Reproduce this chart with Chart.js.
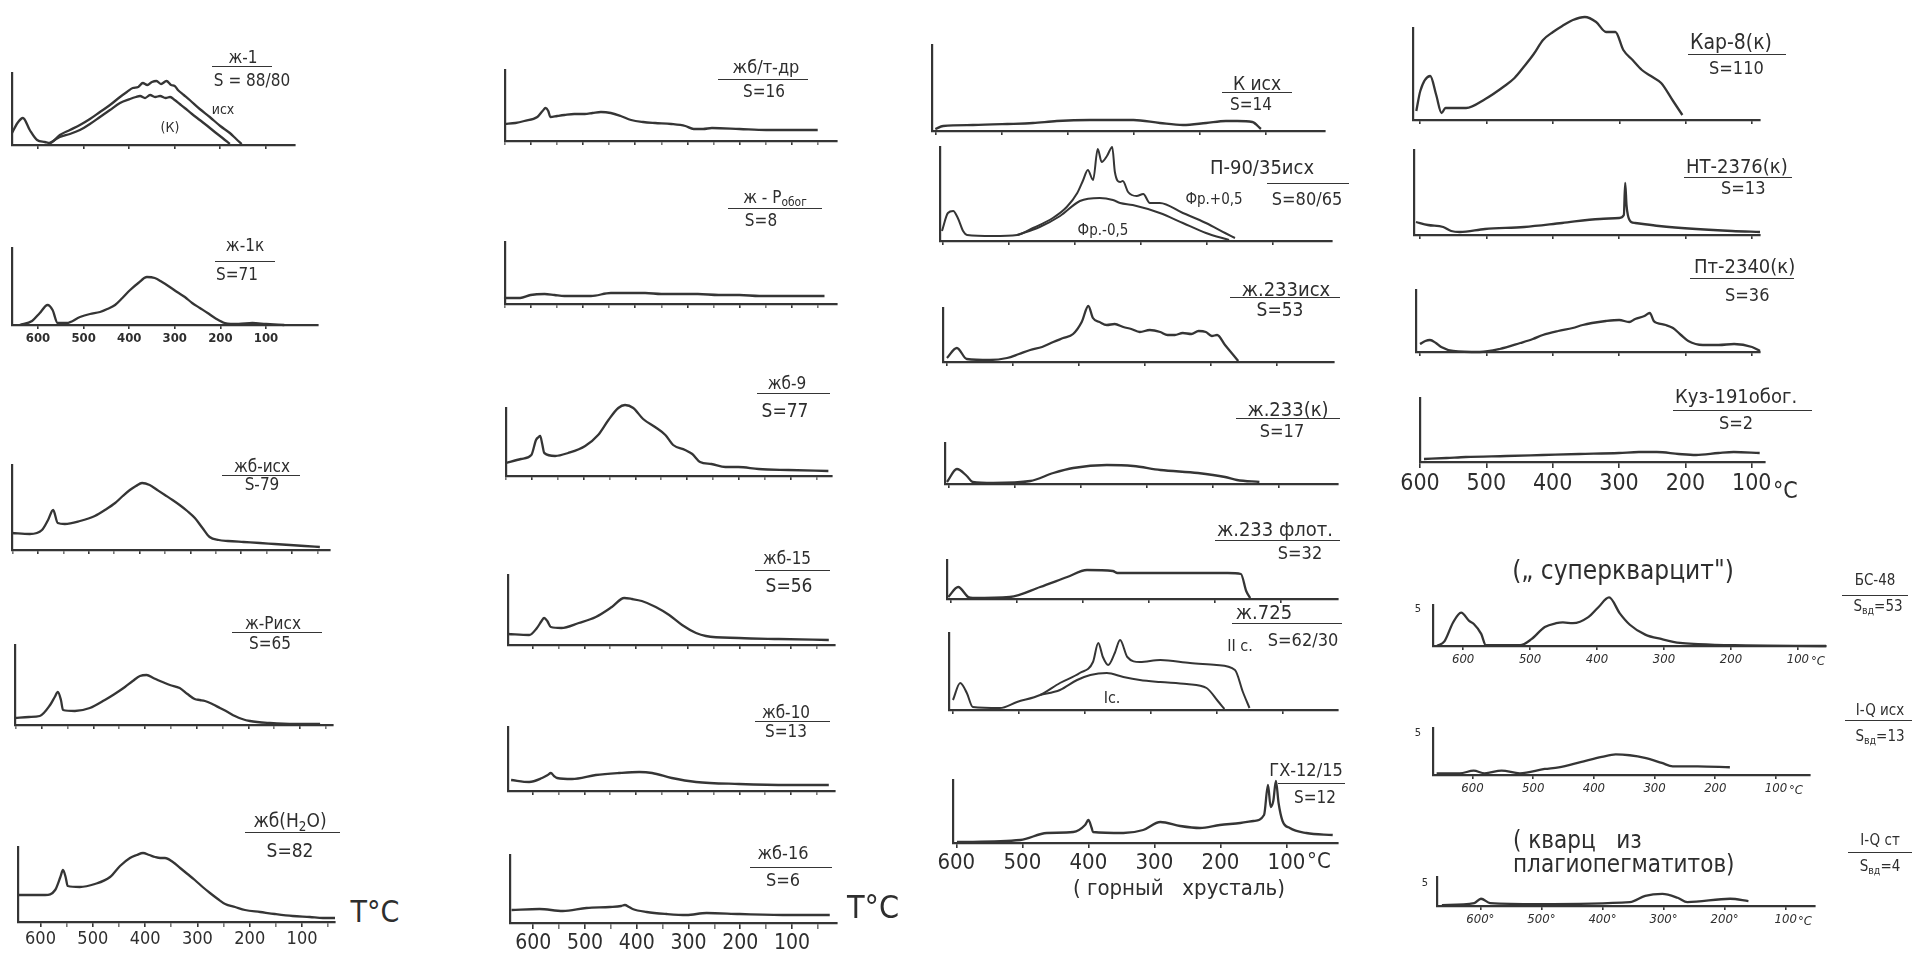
<!DOCTYPE html>
<html lang="ru">
<head>
<meta charset="utf-8">
<title>Кривые термолюминесценции кварца</title>
<script src="https://cdn.jsdelivr.net/npm/chart.js@4.4.1/dist/chart.umd.min.js"></script>
<style>
  html, body { margin: 0; padding: 0; background: #fff; }
  #sheet { position: relative; width: 1918px; height: 955px; overflow: hidden; background: #fff; }
  #sheet canvas { position: absolute; }
  .lbl { position: absolute; white-space: nowrap; color: #2e2e2e; line-height: 1;
         font-family: "DejaVu Sans Condensed", "Liberation Sans Narrow", "DejaVu Sans", sans-serif; }
  .lbl sub { font-size: 70%; vertical-align: -0.25em; }
  .rule { position: absolute; height: 0; border-top: 1.8px solid #353535; }
</style>
</head>
<body>
<div id="sheet"></div>
<script>
// ---------- glow-curve data: temperature (°C) and relative intensity ----------

// ж-1 (initial and after treatment)
const zh1IshT = [657,645,633,618,602,585,574,552,530,508,486,464,442,420,405,392,380,370,360,350,340,330,318,308,300,293,280,267,245,223,200,179,165,153];
const zh1IshI = [12,22,27,15,5,3,2,10,15,20,26,33,40,48,53,57,58,62,60,63,64,61,64,60,59,55,50,45,36,28,19,12,6,1];
const zh1KT = [574,552,530,508,486,464,442,420,398,385,376,365,354,343,332,320,310,300,289,278,262,245,228,212,195,179];
const zh1KI = [2,8,11,15,21,28,35,42,46,48,49,47,50,48,49,47,48,45,41,37,31,25,19,13,7,1];

// ж-1к
const zh1kT = [640,613,596,579,568,557,537,508,486,464,448,431,415,398,380,361,344,328,311,295,278,262,245,228,212,190,160,130,100,60];
const zh1kI = [0,4,12,20,15,2,2,8,11,13,16,20,27,35,42,48,47,43,38,33,28,22,17,12,7,2,1,2,1,0];

// жб-исх
const zbIshT = [651,616,592,580,570,561,547,517,488,468,448,433,419,407,395,380,365,350,335,321,306,291,276,262,244,226,195,163,134,104,75,45];
const zbIshI = [17,16,20,30,40,27,26,29,34,40,47,54,60,64,67,65,60,55,50,45,39,32,22,13,10,9,8,7,6,5,4,3];

// ж-Рисх
const zhRIshT = [652,625,604,584,575,569,563,559,536,507,478,459,439,424,410,397,384,371,352,333,318,304,294,284,270,255,240,226,212,197,158,110,61];
const zhRIshI = [7,8,9,20,28,33,25,15,14,17,25,31,38,44,49,50,47,44,40,37,31,26,25,24,21,17,13,9,6,4,2,1,1];

// жб(H2O)
const zbH2OT = [643,620,591,572,562,557,552,548,525,496,467,448,429,416,404,392,381,371,362,347,333,319,305,290,276,261,247,228,209,180,152,118,85,60,37];
const zbH2OI = [27,27,27,32,45,52,45,36,35,38,45,56,64,67,69,67,65,64,64,60,54,48,42,35,29,23,18,15,12,10,8,6,5,4,4];

// жб/т-др
const zbTdrT = [650,630,613,588,578,572,567,563,550,536,517,497,482,466,447,428,408,385,362,331,304,288,270,253,200,149,100,50];
const zbTdrI = [17,18,20,24,30,33,30,24,25,26,27,27,28,29,28,25,21,19,18,17,15,12,12,13,12,11,11,11];

// ж-Робог
const zhRobT = [652,621,601,574,555,536,510,485,447,415,381,350,317,280,240,200,162,100,37];
const zhRobI = [6,6,9,10,9,8,8,8,11,11,11,10,10,10,9,9,8,8,8];

// жб-9
const zb9T = [650,621,601,592,587,584,580,576,555,530,497,472,452,433,420,404,385,362,342,327,304,290,275,253,226,201,162,104,27];
const zb9I = [13,17,21,36,39,40,32,23,20,23,30,41,56,68,71,68,57,49,41,31,26,22,14,12,9,9,7,6,5];

// жб-15
const zb15T = [648,607,592,583,578,572,565,545,511,478,447,423,408,389,362,336,311,284,265,201,124,27];
const zb15I = [11,10,17,24,27,24,18,17,22,28,38,47,46,44,38,30,20,12,9,7,6,5];

// жб-10
const zb10T = [642,607,582,571,565,559,553,524,478,433,394,369,331,284,201,104,27];
const zb10I = [11,9,13,16,18,15,13,12,16,18,19,18,13,9,7,6,6];

// жб-16
const zb16T = [642,588,543,497,452,430,423,415,408,381,342,304,265,201,104,27];
const zb16I = [13,14,12,15,16,17,18,16,14,11,9,8,10,9,8,8];

// К исх
const kIshT = [600,588,543,491,452,416,366,300,260,225,190,160,143,120,107];
const kIshI = [2,5,6,7,8,10,11,11,8,6,8,10,10,9,2];

// П-90/35исх, fractions +0,5 and -0,5
const p90UpT = [602,593,585,578,570,564,525,488,464,434,413,397,388,381,373,366,360,352,344,340,332,328,320,307,297,287,272,237,202,173,158];
const p90UpI = [10,28,30,23,10,6,5,6,13,23,34,48,61,71,61,92,79,85,94,69,59,60,49,45,47,38,38,28,18,8,3];
const p90LowT = [488,454,423,393,363,343,332,313,272,237,202,167];
const p90LowI = [6,14,25,40,43,41,38,36,28,18,8,1];

// ж.233исх
const zh233IshT = [599,584,569,534,508,490,473,455,438,423,408,395,385,378,368,357,345,332,320,307,292,276,265,254,242,229,218,207,198,190,178,163,158];
const zh233IshI = [4,14,3,2,4,8,12,15,20,24,28,40,56,44,40,37,38,35,33,30,32,30,27,27,29,28,31,30,26,27,17,5,1];

// ж.233(к)
const zh233KT = [602,587,572,563,532,476,441,411,360,320,279,222,181,163,129];
const zh233KI = [2,15,8,2,1,3,11,16,19,18,14,11,7,4,2];

// ж.233 флот.
const zh233FlT = [603,588,573,566,510,464,423,393,354,347,282,222,180,160,152,146];
const zh233FlI = [2,12,2,1,2,12,22,29,28,26,26,26,26,25,8,1];

// ж.725, II and I sections
const zh725IIT = [599,588,578,569,528,502,467,437,407,387,379,372,364,354,346,335,316,285,240,200,172,160,150];
const zh725III = [10,27,17,3,2,8,15,27,37,48,67,53,45,57,70,53,48,50,47,45,40,18,2];
const zh725IT = [467,437,411,391,366,341,316,285,245,215,198,188];
const zh725II = [15,20,30,35,37,33,30,28,26,22,9,1];

// ГХ-12/15
const gh12T = [599,503,463,423,405,400,395,393,347,317,291,261,231,201,170,150,134,128,124,120,116,112,106,95,70,30];
const gh12I = [1,3,10,11,18,23,15,11,10,13,21,17,15,18,20,22,28,58,36,42,62,40,22,15,10,8];

// Кар-8(к)
const kar8T = [606,600,585,576,568,562,531,502,473,458,443,429,415,400,386,370,352,335,320,306,294,280,266,250,237,219,205];
const kar8I = [9,29,44,25,7,12,12,21,34,42,54,66,80,88,94,100,103,98,88,88,70,60,50,43,37,19,5];

// НТ-2376(к)
const nt2376T = [606,588,565,553,540,502,443,386,329,300,293,291,289,287,282,276,240,184,130,88];
const nt2376I = [13,10,8,4,3,6,8,12,16,17,20,52,30,20,13,12,9,6,4,3];

// Пт-2340(к)
const pt2340T = [600,592,585,576,568,550,510,480,449,430,415,392,370,355,341,320,300,285,276,262,254,248,243,230,219,207,196,174,150,127,100,88];
const pt2340I = [8,11,12,9,5,1,0,3,9,13,17,21,24,27,29,31,32,30,33,36,39,31,29,27,24,17,11,7,7,8,5,1];

// Куз-191обог.
const kuz191T = [594,560,531,470,415,360,300,270,243,210,184,150,127,88];
const kuz191I = [3,4,5,6,7,8,9,10,10,8,7,9,10,9];

// БС-48 (units of the "5" scale)
const bs48T = [639,628,615,603,591,584,573,566,515,498,478,461,451,436,413,398,382,366,351,328,303,276,249,195,58];
const bs48I = [0,0.6,3.1,4.4,3.3,2.9,1.6,0.1,0.1,0.9,2.5,3.0,3.1,3.0,3.8,5.1,6.4,4.3,2.8,1.5,0.9,0.4,0.25,0.1,0];

// I-Q исх
const iqIshT = [659,621,598,580,552,522,481,458,422,387,364,341,316,288,270,229,176];
const iqIshI = [0.2,0.2,0.5,0.2,0.5,0.2,0.7,0.9,1.5,2.1,2.4,2.3,2.0,1.4,1.0,1.0,0.9];

// I-Q ст
const iqStT = [663,610,599,584,505,355,330,302,277,261,191,161];
const iqStI = [0.2,0.6,1.5,0.6,0.4,0.8,2.1,2.5,1.7,0.8,1.5,1.0];

// tick labels along the temperature axes
const tempTicks = [600, 500, 400, 300, 200, 100];

// ---------- drawing ----------
const INK = '#353535';
const FONT = '"DejaVu Sans Condensed", "Liberation Sans Narrow", "DejaVu Sans", sans-serif';
const sheet = document.getElementById('sheet');

function curve(T, I, w) { return { T, I, w: w || 2.3 }; }

function panel(p) {
  const [ax, top, rx, base] = p.box;
  const [tl, tr] = p.t;
  const PL = 24, PT = 32, PR = 14, PB = 2;
  const XH = p.labels ? p.labelSize + 12 : 8;
  const w = (rx - ax) + PL + PR;
  const h = (base - top) + PT + XH + PB;
  const cv = document.createElement('canvas');
  cv.width = w; cv.height = h;
  cv.style.left = (ax - PL) + 'px';
  cv.style.top = (top - PT) + 'px';
  sheet.appendChild(cv);
  const fmt = p.fmt || (v => tempTicks.includes(v) ? String(v) : '');
  new Chart(cv, {
    type: 'line',
    data: {
      datasets: p.series.map(s => ({
        data: s.T.map((t, i) => ({ x: t, y: s.I[i] })),
        borderColor: INK, borderWidth: s.w, pointRadius: 0,
        tension: 0, cubicInterpolationMode: 'monotone', clip: false, fill: false
      }))
    },
    options: {
      responsive: false, animation: false, events: [],
      layout: { padding: { left: PL, top: PT, right: PR, bottom: PB } },
      plugins: { legend: { display: false }, tooltip: { enabled: false } },
      scales: {
        x: {
          type: 'linear', reverse: true, min: tr, max: tl,
          afterFit: s => { s.height = XH; },
          afterBuildTicks: s => { s.ticks = s.ticks.filter(k => k.value % 50 === 0 && k.value >= 50 && k.value <= 650); },
          grid: {
            drawOnChartArea: false, drawTicks: true, tickLength: p.tickLen || 4, lineWidth: 1.6,
            color: c => (c.tick && c.tick.value % 100 !== 0) ? (p.minor ? '#777' : 'rgba(0,0,0,0)') : INK
          },
          border: { display: true, color: INK, width: 2.2 },
          ticks: {
            display: !!p.labels, autoSkip: false, includeBounds: false, maxRotation: 0, minRotation: 0, stepSize: 50,
            padding: 2, color: '#2e2e2e',
            font: { size: p.labelSize || 12, family: FONT, style: p.italic ? 'italic' : 'normal', weight: p.bold ? 'bold' : 'normal' },
            callback: v => fmt(v)
          }
        },
        y: {
          min: 0, max: p.yMax || (base - top),
          afterFit: s => { s.width = 0; },
          ticks: { display: false },
          grid: { display: false },
          border: { display: true, color: INK, width: 2.2 }
        }
      }
    }
  });
}

function txt(html, x, y, size, opt) {
  opt = opt || {};
  const d = document.createElement('div');
  d.className = 'lbl';
  d.innerHTML = html;
  d.style.left = x + 'px';
  d.style.top = y + 'px';
  d.style.fontSize = size + 'px';
  d.style.transform = opt.left ? 'translate(0,-50%)' : 'translate(-50%,-50%)';
  if (opt.italic) d.style.fontStyle = 'italic';
  sheet.appendChild(d);
}
function rule(x1, x2, y) {
  const d = document.createElement('div');
  d.className = 'rule';
  d.style.left = x1 + 'px'; d.style.top = y + 'px'; d.style.width = (x2 - x1) + 'px';
  sheet.appendChild(d);
}

// column 1
panel({ box: [12, 73, 295, 145], t: [657, 36], series: [curve(zh1IshT, zh1IshI), curve(zh1KT, zh1KI)] });
panel({ box: [12, 248, 318, 325], t: [657, -14], series: [curve(zh1kT, zh1kI)], labels: true, labelSize: 13, bold: true });
panel({ box: [12, 465, 330, 550], t: [651, 25], series: [curve(zbIshT, zbIshI)], minor: true });
panel({ box: [15, 645, 333, 725], t: [652, 36], series: [curve(zhRIshT, zhRIshI)], minor: true });
panel({ box: [18, 847, 335, 922], t: [643, 37], series: [curve(zbH2OT, zbH2OI)], labels: true, labelSize: 18, minor: true, tickLen: 5 });

// column 2
panel({ box: [505, 70, 837, 141], t: [650, 13], series: [curve(zbTdrT, zbTdrI)], minor: true });
panel({ box: [505, 242, 837, 304], t: [650, 13], series: [curve(zhRobT, zhRobI)], minor: true });
panel({ box: [506, 408, 832, 476], t: [650, 20], series: [curve(zb9T, zb9I)], minor: true });
panel({ box: [508, 575, 835, 645], t: [648, 15], series: [curve(zb15T, zb15I)], minor: true });
panel({ box: [508, 727, 835, 791], t: [648, 15], series: [curve(zb10T, zb10I)], minor: true });
panel({ box: [510, 855, 837, 923], t: [645, 13], series: [curve(zb16T, zb16I)], labels: true, labelSize: 21, minor: true, tickLen: 6 });

// column 3
panel({ box: [932, 45, 1325, 131], t: [605, 10], series: [curve(kIshT, kIshI)] });
panel({ box: [940, 147, 1332, 241], t: [605, 11], series: [curve(p90UpT, p90UpI, 2), curve(p90LowT, p90LowI, 2)] });
panel({ box: [943, 308, 1334, 362], t: [605, 13], series: [curve(zh233IshT, zh233IshI)] });
panel({ box: [945, 443, 1338, 484], t: [605, 10], series: [curve(zh233KT, zh233KI)] });
panel({ box: [947, 560, 1338, 599], t: [605, 13], series: [curve(zh233FlT, zh233FlI)] });
panel({ box: [949, 633, 1338, 710], t: [605, 16], series: [curve(zh725IIT, zh725III, 2), curve(zh725IT, zh725II, 2)] });
panel({ box: [953, 780, 1338, 843], t: [605, 22], series: [curve(gh12T, gh12I)], labels: true, labelSize: 22, tickLen: 5 });

// column 4
panel({ box: [1413, 28, 1760, 120], t: [611, 88], series: [curve(kar8T, kar8I)] });
panel({ box: [1414, 150, 1760, 235], t: [609, 88], series: [curve(nt2376T, nt2376I)] });
panel({ box: [1416, 290, 1760, 352], t: [606, 88], series: [curve(pt2340T, pt2340I)] });
panel({ box: [1420, 398, 1765, 462], t: [600, 80], series: [curve(kuz191T, kuz191I)], labels: true, labelSize: 23, tickLen: 6 });
panel({ box: [1433, 605, 1826, 646], t: [645, 58], yMax: 5.4, series: [curve(bs48T, bs48I)], labels: true, labelSize: 13, italic: true });
panel({ box: [1433, 728, 1810, 775], t: [665, 44], yMax: 5.47, series: [curve(iqIshT, iqIshI)], labels: true, labelSize: 13, italic: true });
panel({ box: [1437, 877, 1815, 906], t: [671, 52], yMax: 6.0, series: [curve(iqStT, iqStI)], labels: true, labelSize: 13, italic: true,
        fmt: v => (tempTicks.includes(v) && v !== 100) ? v + '°' : (v === 100 ? '100' : '') });

// ---------- sample labels ----------
// column 1
txt('ж-1', 243, 57, 17); rule(212, 272, 66); txt('S = 88/80', 252, 80, 17);
txt('исх', 223, 109, 14); txt('(К)', 170, 127, 14);
txt('ж-1к', 245, 245, 17); rule(215, 275, 261); txt('S=71', 237, 274, 17);
txt('жб-исх', 262, 466, 17); rule(222, 300, 475); txt('S-79', 262, 484, 17);
txt('ж-Рисх', 273, 623, 17); rule(232, 322, 632); txt('S=65', 270, 643, 17);
txt('жб(H<sub>2</sub>O)', 290, 822, 19); rule(245, 340, 832); txt('S=82', 290, 850, 19);
txt('T°C', 375, 912, 30);

// column 2
txt('жб/т-др', 766, 67, 18); rule(718, 808, 79); txt('S=16', 764, 91, 17);
txt('ж - Р<sub>обог</sub>', 775, 199, 17); rule(728, 822, 208); txt('S=8', 761, 220, 17);
txt('жб-9', 787, 383, 17); rule(757, 830, 393); txt('S=77', 785, 410, 19);
txt('жб-15', 787, 558, 17); rule(755, 830, 570); txt('S=56', 789, 585, 19);
txt('жб-10', 786, 712, 17); rule(755, 830, 721); txt('S=13', 786, 731, 17);
txt('жб-16', 783, 853, 18); rule(750, 832, 867); txt('S=6', 783, 880, 18);
txt('T°C', 873, 907, 32);

// column 3
txt('К исх', 1257, 83, 19); rule(1222, 1292, 92); txt('S=14', 1251, 104, 17);
txt('П-90/35исх', 1262, 167, 20); rule(1267, 1349, 183);
txt('Фр.+0,5', 1214, 199, 15); txt('S=80/65', 1307, 199, 18); txt('Фр.-0,5', 1103, 230, 15);
txt('ж.233исх', 1286, 289, 20); rule(1230, 1340, 297); txt('S=53', 1280, 309, 19);
txt('ж.233(к)', 1288, 409, 20); rule(1236, 1340, 418); txt('S=17', 1282, 431, 18);
txt('ж.233 флот.', 1275, 529, 20); rule(1215, 1340, 540); txt('S=32', 1300, 553, 18);
txt('ж.725', 1264, 612, 20); rule(1232, 1342, 623); txt('II с.', 1240, 646, 16); txt('S=62/30', 1303, 640, 18);
txt('Iс.', 1112, 698, 16);
txt('ГХ-12/15', 1306, 770, 18); rule(1278, 1345, 783); txt('S=12', 1315, 797, 17);
txt('°C', 1307, 861, 22, { left: true });
txt('( горный&nbsp;&nbsp; хрусталь)', 1073, 888, 22, { left: true });

// column 4
txt('Кар-8(к)', 1690, 42, 21, { left: true }); rule(1688, 1786, 54); txt('S=110', 1709, 68, 18, { left: true });
txt('НТ-2376(к)', 1686, 166, 20, { left: true }); rule(1684, 1792, 177); txt('S=13', 1721, 188, 18, { left: true });
txt('Пт-2340(к)', 1694, 266, 20, { left: true }); rule(1690, 1794, 278); txt('S=36', 1725, 295, 18, { left: true });
txt('Куз-191обог.', 1675, 396, 20, { left: true }); rule(1673, 1812, 410); txt('S=2', 1719, 423, 18, { left: true });
txt('°C', 1773, 490, 23, { left: true });
txt('(„ суперкварцит")', 1623, 570, 26);
txt('5', 1418, 608, 11); txt('°C', 1811, 660, 13, { left: true, italic: true });
txt('БС-48', 1875, 580, 15); rule(1842, 1908, 595); txt('S<sub>вд</sub>=53', 1878, 607, 15);
txt('5', 1418, 732, 11); txt('°C', 1789, 789, 13, { left: true, italic: true });
txt('I-Q исх', 1880, 710, 15); rule(1845, 1912, 720); txt('S<sub>вд</sub>=13', 1880, 737, 15);
txt('( кварц&nbsp;&nbsp; из', 1513, 840, 24, { left: true });
txt('плагиопегматитов)', 1513, 864, 24, { left: true });
txt('5', 1425, 882, 11); txt('°C', 1798, 920, 13, { left: true, italic: true });
txt('I-Q ст', 1880, 840, 15); rule(1848, 1912, 852); txt('S<sub>вд</sub>=4', 1880, 867, 15);
</script>
</body>
</html>
